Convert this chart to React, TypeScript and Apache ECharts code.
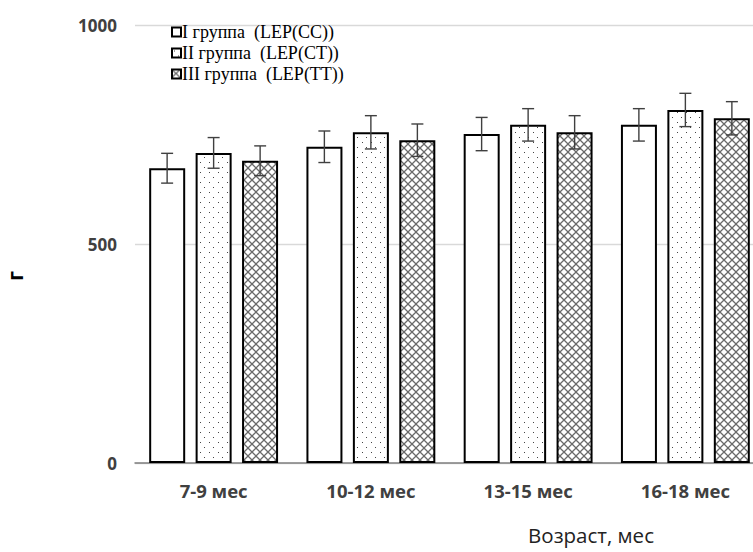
import React, { useEffect, useRef } from "react";
import * as echarts from "echarts";

const categories = ["7-9 мес", "10-12 мес", "13-15 мес", "16-18 мес"];
const seriesNames = ["I группа  (LEP(CC))", "II группа  (LEP(CT))", "III группа  (LEP(TT))"];
const group1 = [673, 722, 751, 772];
const group2 = [708, 755, 772, 806];
const group3 = [690, 737, 755, 787];
const err1 = [34, 36, 38, 37];
const err2 = [35, 38, 37, 38];
const err3 = [34, 37, 38, 38];
const yTicks = { min: 0, max: 1000, interval: 500 };
const yName = "г";
const xName = "Возраст, мес";

function makeDots(): HTMLCanvasElement {
  const c = document.createElement("canvas");
  c.width = 9;
  c.height = 10;
  const ctx = c.getContext("2d")!;
  ctx.fillStyle = "#ffffff";
  ctx.fillRect(0, 0, 9, 10);
  ctx.fillStyle = "#444444";
  ctx.fillRect(2, 2, 1, 1);
  ctx.fillRect(6, 7, 1, 1);
  return c;
}

function makeHatch(): HTMLCanvasElement {
  const c = document.createElement("canvas");
  c.width = 8;
  c.height = 8;
  const ctx = c.getContext("2d")!;
  ctx.fillStyle = "#ffffff";
  ctx.fillRect(0, 0, 8, 8);
  ctx.strokeStyle = "#6a6a6a";
  ctx.lineWidth = 1.3;
  ctx.beginPath();
  ctx.moveTo(-1, -1);
  ctx.lineTo(9, 9);
  ctx.moveTo(-1, 9);
  ctx.lineTo(9, -1);
  ctx.stroke();
  return c;
}

export default function App() {
  const ref = useRef<HTMLDivElement>(null);
  useEffect(() => {
    if (!ref.current) return;
    const chart = echarts.init(ref.current, null, { renderer: "svg" });
    const dots = makeDots();
    const hatch = makeHatch();
    const fills: any[] = [
      "#ffffff",
      { image: dots, repeat: "repeat" },
      { image: hatch, repeat: "repeat" },
    ];
    const values = [group1, group2, group3];
    const errs = [err1, err2, err3];
    const barW = 36;
    const step = 46.5;
    const barSeries = values.map((vals, i) => ({
      type: "bar",
      name: seriesNames[i],
      data: vals,
      barWidth: barW,
      barGap: "29%",
      itemStyle: { color: fills[i], borderColor: "#000000", borderWidth: 2 },
      z: 2,
    }));
    const errSeries = values.map((vals, i) => ({
      type: "custom",
      name: "err" + i,
      data: vals.map((v, k) => [k, v, errs[i][k]]),
      encode: { x: 0, y: 1 },
      z: 5,
      renderItem: (params: any, api: any) => {
        const k = api.value(0);
        const v = api.value(1);
        const e = api.value(2);
        const top = api.coord([k, v + e]);
        const bot = api.coord([k, v - e]);
        const x = top[0] + (i - 1) * step;
        const cap = 6;
        const style = { stroke: "#404040", lineWidth: 1.4 };
        return {
          type: "group",
          children: [
            { type: "line", shape: { x1: x, y1: top[1], x2: x, y2: bot[1] }, style },
            { type: "line", shape: { x1: x - cap, y1: top[1], x2: x + cap, y2: top[1] }, style },
            { type: "line", shape: { x1: x - cap, y1: bot[1], x2: x + cap, y2: bot[1] }, style },
          ],
        };
      },
    }));
    chart.setOption({
      animation: false,
      backgroundColor: "#ffffff",
      grid: { left: 135, top: 25, right: 6, bottom: 89, containLabel: false },
      legend: {
        data: seriesNames,
        orient: "vertical",
        left: 166,
        top: 18,
        itemWidth: 9,
        itemHeight: 9,
        itemGap: 3,
        icon: "rect",
        itemStyle: { borderColor: "#000000", borderWidth: 2 },
        textStyle: {
          fontFamily: "Liberation Serif",
          fontSize: 18,
          color: "#000000",
          padding: [0, 0, 0, -4],
        },
      },
      xAxis: {
        type: "category",
        data: categories,
        axisTick: { show: false },
        axisLine: { lineStyle: { color: "#7f7f7f", width: 1.5 } },
        axisLabel: {
          fontFamily: "Open Sans",
          fontWeight: "bold",
          fontSize: 18.5,
          color: "#404040",
          margin: 17,
          lineHeight: 20,
        },
      },
      yAxis: {
        type: "value",
        min: yTicks.min,
        max: yTicks.max,
        interval: yTicks.interval,
        axisLine: { show: false },
        axisTick: { show: false },
        splitLine: { lineStyle: { color: "#d9d9d9", width: 1.3 } },
        axisLabel: {
          fontFamily: "Open Sans",
          fontWeight: "bold",
          fontSize: 17,
          color: "#404040",
          margin: 18,
          formatter: (v: number) => String(v),
        },
      },
      graphic: [
        {
          type: "text",
          x: 15,
          y: 276,
          rotation: Math.PI / 2,
          style: {
            text: yName,
            fontFamily: "Open Sans",
            fontWeight: "bold",
            fontSize: 21,
            fill: "#000000",
            align: "center",
            verticalAlign: "middle",
          },
        },
        {
          type: "text",
          x: 591,
          y: 535,
          style: {
            text: xName,
            fontFamily: "Open Sans",
            fontSize: 20.5,
            fill: "#222222",
            align: "center",
            verticalAlign: "middle",
          },
        },
      ],
      series: [...barSeries, ...errSeries],
    });
    return () => chart.dispose();
  }, []);
  return (
    <div
      style={{
        position: "absolute",
        left: 0,
        top: 0,
        width: 753,
        height: 552,
        overflow: "hidden",
        background: "#ffffff",
      }}
    >
      <div ref={ref} style={{ width: 770, height: 552 }} />
    </div>
  );
}
